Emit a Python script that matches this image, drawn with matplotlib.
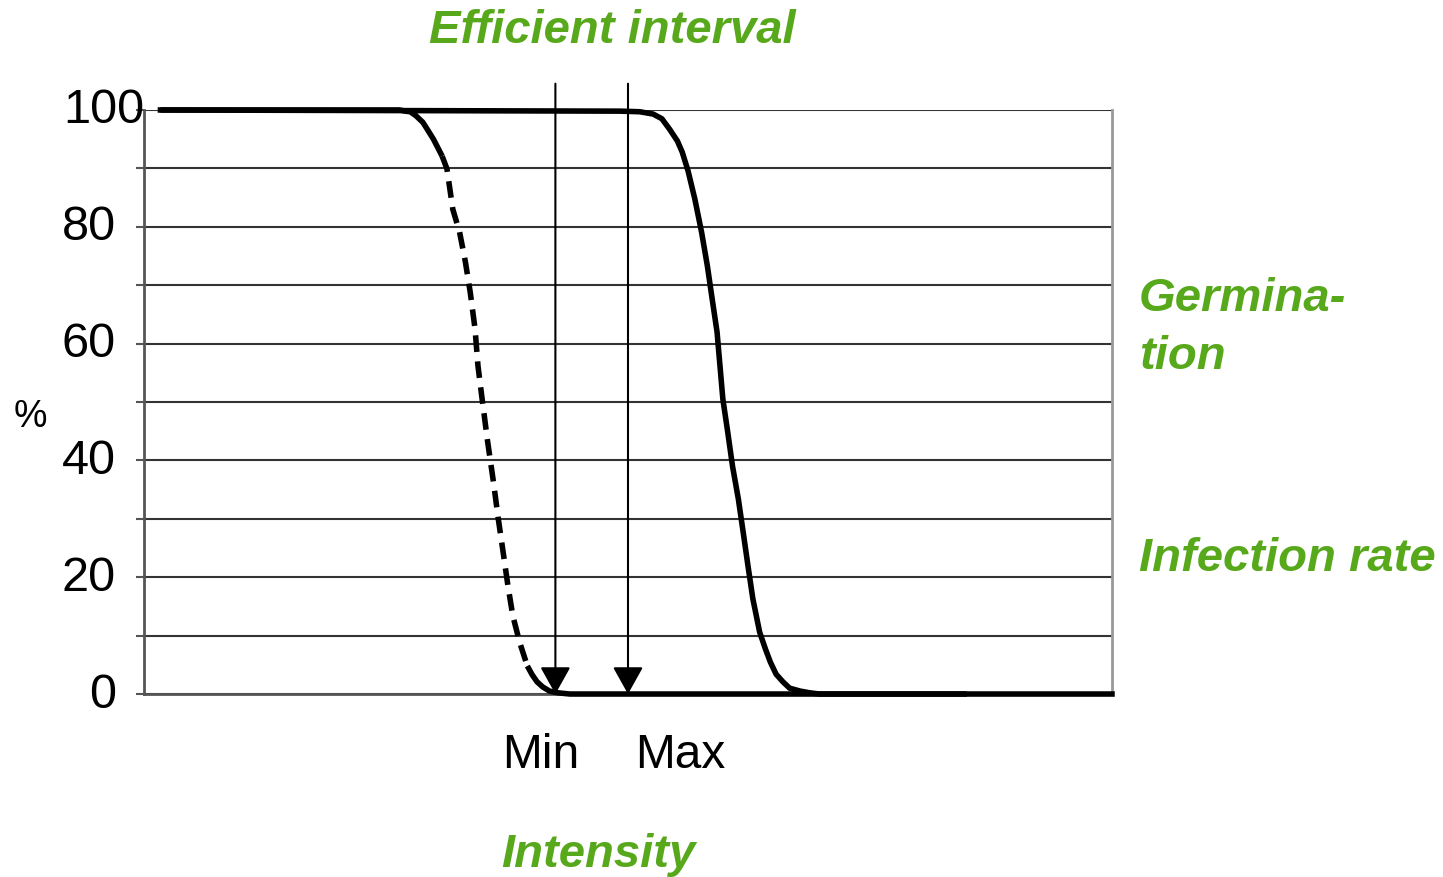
import matplotlib
matplotlib.use("Agg")
import matplotlib.pyplot as plt

plt.rcParams['font.family'] = ['Liberation Sans', 'DejaVu Sans']

GREEN = '#58a81c'

# intensity (0-100 scale) and % values
germ_x = [1.7, 26.4, 27.0, 27.5, 28.1, 28.8, 29.3, 29.9, 30.8, 31.3, 31.9, 32.6, 33.2, 33.7,
          34.2, 34.5, 34.9, 35.5, 36.1, 36.6, 37.1, 37.6, 38.1, 38.8, 39.6, 40.1, 40.6,
          41.2, 41.9, 42.8, 44.0, 85.0]
germ_y = [100, 100, 99.8, 99.7, 99.0, 97.9, 96.6, 95.0, 92.1, 89.9, 83.0, 79.1, 74.0, 68.8,
          62.5, 56.2, 50.9, 43.2, 36.3, 30.0, 24.3, 18.5, 13.4, 8.9, 4.8, 3.3, 2.1,
          1.2, 0.5, 0.2, 0, 0]

infect_x = [1.7, 49.2, 51.2, 52.6, 53.5, 54.3, 55.1, 55.6, 56.2, 56.9, 57.6, 58.2, 58.7,
            59.2, 59.8, 60.3, 60.8, 61.4, 61.9, 62.4, 62.9, 63.6, 64.2, 64.7, 65.3, 66.0,
            66.7, 67.8, 68.8, 69.8, 100]
infect_y = [100, 99.8, 99.7, 99.3, 98.5, 96.7, 94.7, 92.8, 89.6, 84.8, 79.1, 73.3, 67.6,
            62.0, 50.5, 44.9, 39.0, 33.4, 27.7, 21.9, 16.3, 10.6, 7.7, 5.5, 3.4, 2.1,
            1.0, 0.5, 0.2, 0, 0]

interval_x = [42.5, 50.0]   # Min, Max arrows
interval_top = 104.5

y_ticks = list(range(0, 101, 10))
y_labels = [0, 20, 40, 60, 80, 100]

fig = plt.figure(figsize=(14.43, 8.78), dpi=100)
ax = fig.add_axes([0.0998, 0.2084, 0.6708, 0.6652])

ax.set_xlim(0, 100)
ax.set_ylim(0, 100)
ax.set_yticks(y_ticks)
ax.set_xticks([])
ax.tick_params(axis='y', length=6, width=1.5, color='#555555', labelleft=False)
ax.grid(axis='y', color='#333333', lw=1.5)
ax.set_axisbelow(True)

ax.spines['top'].set_visible(False)
ax.spines['left'].set_color('#555555')
ax.spines['left'].set_linewidth(2)
ax.spines['bottom'].set_color('#555555')
ax.spines['bottom'].set_linewidth(2)
ax.spines['right'].set_color('#999999')
ax.spines['right'].set_linewidth(2)

# the dashes only show on the steep part, flat knees look solid
line_kw = dict(color='black', lw=4, clip_on=False, solid_joinstyle='round',
               solid_capstyle='butt', zorder=3)
ax.plot(germ_x[:9], germ_y[:9], **line_kw)
ax.plot(germ_x[8:25], germ_y[8:25], ls=(0, (3, 1.7)), dash_capstyle='butt', **line_kw)
ax.plot(germ_x[24:], germ_y[24:], **line_kw)
ax.plot(infect_x, infect_y, color='black', lw=4, clip_on=False,
        solid_joinstyle='round', zorder=4)

for xv in interval_x:
    ax.annotate('', xy=(xv, 0), xytext=(xv, interval_top), annotation_clip=False,
                arrowprops=dict(arrowstyle='-|>,head_length=1.7,head_width=0.95',
                                color='black', lw=1.5, shrinkA=0, shrinkB=0,
                                mutation_scale=10), zorder=5)

# y tick labels
for v in y_labels:
    if v == 100:
        ax.text(-0.0837, v, str(v), transform=ax.get_yaxis_transform(),
                ha='left', va='center', fontsize=35)
    else:
        ax.text(-0.029, v, str(v), transform=ax.get_yaxis_transform(),
                ha='right', va='center', fontsize=35)

fig.text(14 / 1443, 1 - 417 / 878, '%', fontsize=27, ha='left', va='center')
fig.text(541 / 1443, 1 - 756 / 878, 'Min', fontsize=34.5, ha='center', va='center')
fig.text(680 / 1443, 1 - 756 / 878, 'Max', fontsize=34.5, ha='center', va='center')

gkw = dict(color=GREEN, fontsize=34, fontweight='bold', fontstyle='italic', va='center')
fig.text(612 / 1443, 1 - 31 / 878, 'Efficient interval', ha='center', **gkw)
fig.text(1139 / 1443, 1 - 299 / 878, 'Germina-', ha='left', **gkw)
fig.text(1139 / 1443, 1 - 357 / 878, 'tion', ha='left', **gkw)
fig.text(1139 / 1443, 1 - 559 / 878, 'Infection rate', ha='left', **gkw)
fig.text(598 / 1443, 1 - 855 / 878, 'Intensity', ha='center', **gkw)

fig.savefig('out.png', dpi=100)
